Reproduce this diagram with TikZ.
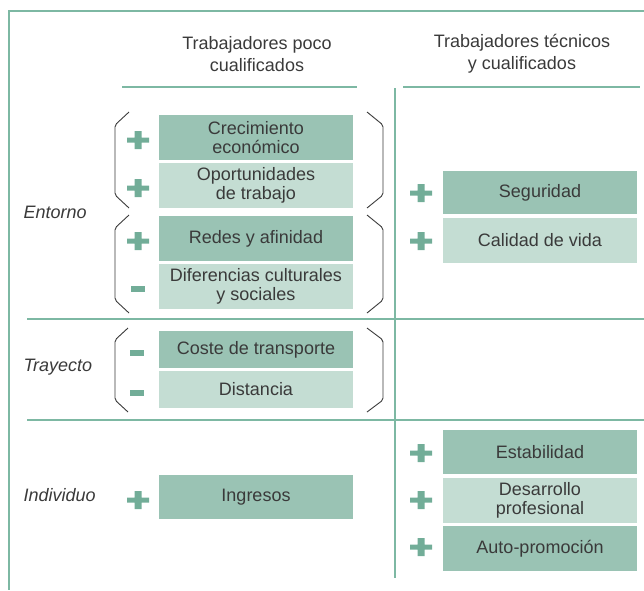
\documentclass[tikz,border=0pt]{standalone}
\usepackage{fontspec}
\setmainfont{Liberation Sans}
\definecolor{framegreen}{HTML}{7DB8A3}
\definecolor{boxdark}{HTML}{9AC3B4}
\definecolor{boxlight}{HTML}{C4DDD3}
\definecolor{signgreen}{HTML}{72AD98}
\definecolor{ink}{HTML}{3A3A3A}
\begin{document}
\begin{tikzpicture}[x=1pt,y=-1pt,
  rule/.style={draw=framegreen,line width=2pt},
  thinrule/.style={draw=framegreen,line width=1.5pt},
  cell/.style={minimum width=194pt,inner sep=0pt,align=center,text=ink,
    font=\fontsize{18}{19.5}\selectfont},
  dark/.style={cell,fill=boxdark},
  light/.style={cell,fill=boxlight},
  brace/.style={draw=ink,line width=0.9pt,rounded corners=2pt},
  rowlabel/.style={anchor=west,text=ink,font=\fontsize{18}{19.5}\selectfont\itshape},
  head/.style={align=center,text=ink,font=\fontsize{18}{22}\selectfont},
  plussign/.pic={\fill[signgreen] (-11,-2.5) rectangle (11,2.5) (-3.5,-9) rectangle (3.5,9);},
  minussign/.pic={\fill[signgreen] (-7,-2.8) rectangle (7,2.8);}]
\useasboundingbox (0,0) rectangle (644,590);

% frame and rules
\draw[rule] (644,11) -- (9,11) -- (9,590);
\draw[rule] (122,87) -- (357,87);
\draw[rule] (403,87) -- (640,87);
\draw[thinrule] (395,88) -- (395,578);
\draw[rule] (27,319) -- (644,319);
\draw[rule] (27,420) -- (644,420);

% column headings
\node[head] (hlow) at (257,54) {Trabajadores poco\\cualificados};
\node[head] (hhigh) at (522,54) {Trabajadores técnicos\\y cualificados};

% row labels
\node[rowlabel] (entorno) at (20,212) {Entorno};
\node[rowlabel] (trayecto) at (20,367) {Trayecto};
\node[rowlabel] (individuo) at (20,495) {Individuo};

% low-skilled column
\node[dark,minimum height=45pt] (crec) at (256,137.5) {Crecimiento\\económico};
\node[light,minimum height=45pt] (opor) at (256,185.5) {Oportunidades\\de trabajo};
\node[dark,minimum height=45pt] (redes) at (256,238.5) {Redes y afinidad};
\node[light,minimum height=45pt] (difer) at (256,286.5) {Diferencias culturales\\y sociales};
\node[dark,minimum height=37pt] (coste) at (256,349.5) {Coste de transporte};
\node[light,minimum height=37pt] (dist) at (256,389.5) {Distancia};
\node[dark,minimum height=44pt] (ingr) at (256,497) {Ingresos};

% skilled column
\node[dark,minimum height=43pt] (segur) at (540,192.5) {Seguridad};
\node[light,minimum height=45pt] (calid) at (540,240.5) {Calidad de vida};
\node[dark,minimum height=44pt] (estab) at (540,452) {Estabilidad};
\node[light,minimum height=45pt] (desar) at (540,500.5) {Desarrollo\\profesional};
\node[dark,minimum height=45pt] (autop) at (540,548.5) {Auto-promoción};

% signs
\pic at (138,140) {plussign};
\pic at (138,188) {plussign};
\pic at (138,241) {plussign};
\pic at (138,289) {minussign};
\pic at (137,353) {minussign};
\pic at (137,393) {minussign};
\pic at (138,500) {plussign};
\pic at (421,193) {plussign};
\pic at (421,241) {plussign};
\pic at (421,453) {plussign};
\pic at (421,500) {plussign};
\pic at (421,547) {plussign};

% brackets
\draw[brace] (129,112) -- (115,125) -- (115,195) -- (129,208);
\draw[brace] (129,215) -- (115,228) -- (115,300) -- (129,313);
\draw[brace] (367,112) -- (383,125) -- (383,195) -- (367,208);
\draw[brace] (367,215) -- (383,228) -- (383,300) -- (367,313);
\draw[brace] (128,328) -- (115,340) -- (115,400) -- (128,412);
\draw[brace] (367,328) -- (383,340) -- (383,400) -- (367,412);
\end{tikzpicture}
\end{document}
